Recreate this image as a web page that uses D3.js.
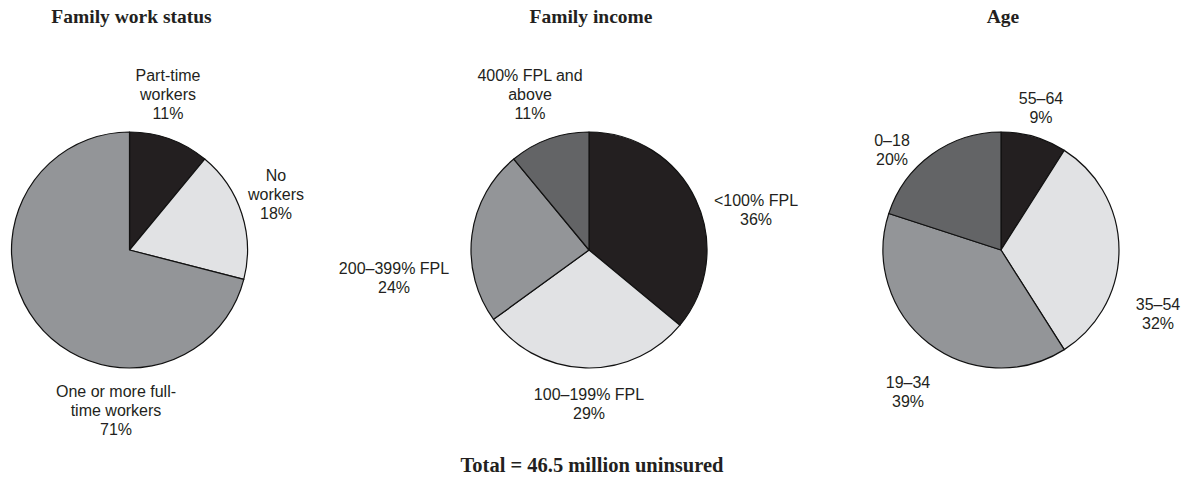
<!DOCTYPE html>
<html>
<head>
<meta charset="utf-8">
<script src="https://cdn.jsdelivr.net/npm/d3@7"></script>
<style>
  body { margin: 0; background: #ffffff; }
  svg { display: block; }
</style>
</head>
<body>
<svg id="chart" width="1186" height="493"></svg>
<script>
// ---- Data -------------------------------------------------------------
const titles = ["Family work status", "Family income", "Age"];

const workCategories = ["Part-time\nworkers", "No\nworkers", "One or more full-\ntime workers"];
const workValues = [11, 18, 71];

const incomeCategories = ["<100% FPL", "100–199% FPL", "200–399% FPL", "400% FPL and\nabove"];
const incomeValues = [36, 29, 24, 11];

const ageCategories = ["55–64", "35–54", "19–34", "0–18"];
const ageValues = [9, 32, 39, 20];

const totalNote = "Total = 46.5 million uninsured";

// ---- Layout & style ---------------------------------------------------
const W = 1186, H = 493;
const radius = 118;
const centerY = 250;
const centersX = [129.5, 589, 1001];
const shades = ["#231f20", "#e1e2e4", "#939598", "#636466"];
const ink = "#231f20";
const lineGap = 19;

// label anchors relative to each pie's centre: [dx, first-line baseline dy]
const labelOffsets = [
  [[38.5, -169], [146.5, -69], [-13.5, 147]],
  [[167, -44], [0, 150], [-195, 24], [-59, -169]],
  [[40, -146], [157, 60], [-93, 138], [-109, -104]]
];

const pies = [
  { title: titles[0], cats: workCategories, vals: workValues },
  { title: titles[1], cats: incomeCategories, vals: incomeValues },
  { title: titles[2], cats: ageCategories, vals: ageValues }
];

const svg = d3.select("#chart");

const pieGen = d3.pie().sort(null).value(d => d.value);
const arcGen = d3.arc().innerRadius(0).outerRadius(radius);
const shadeScale = d3.scaleOrdinal().domain(d3.range(4)).range(shades);

pies.forEach((p, pi) => {
  const rows = p.cats.map((c, i) => ({ label: c, value: p.vals[i], index: i }));
  const g = svg.append("g")
    .attr("transform", `translate(${centersX[pi]},${centerY})`);

  // chart title
  svg.append("text")
    .attr("x", centersX[pi] + 2)
    .attr("y", 23)
    .attr("text-anchor", "middle")
    .attr("font-family", "'Liberation Serif', 'Times New Roman', serif")
    .attr("font-weight", "bold")
    .attr("font-size", "19.5px")
    .attr("fill", ink)
    .text(p.title);

  // slices
  g.selectAll("path.slice")
    .data(pieGen(rows))
    .join("path")
    .attr("class", "slice")
    .attr("d", arcGen)
    .attr("fill", d => shadeScale(d.data.index))
    .attr("stroke", "#111")
    .attr("stroke-width", 1.2)
    .attr("stroke-linejoin", "round");

  // slice labels: category lines then percentage
  rows.forEach((r, i) => {
    const [dx, dy] = labelOffsets[pi][i];
    const lines = r.label.split("\n").concat([r.value + "%"]);
    const t = g.append("text")
      .attr("text-anchor", "middle")
      .attr("font-family", "'Liberation Sans', Arial, sans-serif")
      .attr("font-size", "16px")
      .attr("fill", ink);
    lines.forEach((ln, k) => {
      t.append("tspan")
        .attr("x", dx)
        .attr("y", dy + k * lineGap)
        .text(ln);
    });
  });
});

// total note
svg.append("text")
  .attr("x", 592)
  .attr("y", 472)
  .attr("text-anchor", "middle")
  .attr("font-family", "'Liberation Serif', 'Times New Roman', serif")
  .attr("font-weight", "bold")
  .attr("font-size", "20.5px")
  .attr("fill", ink)
  .text(totalNote);
</script>
</body>
</html>
